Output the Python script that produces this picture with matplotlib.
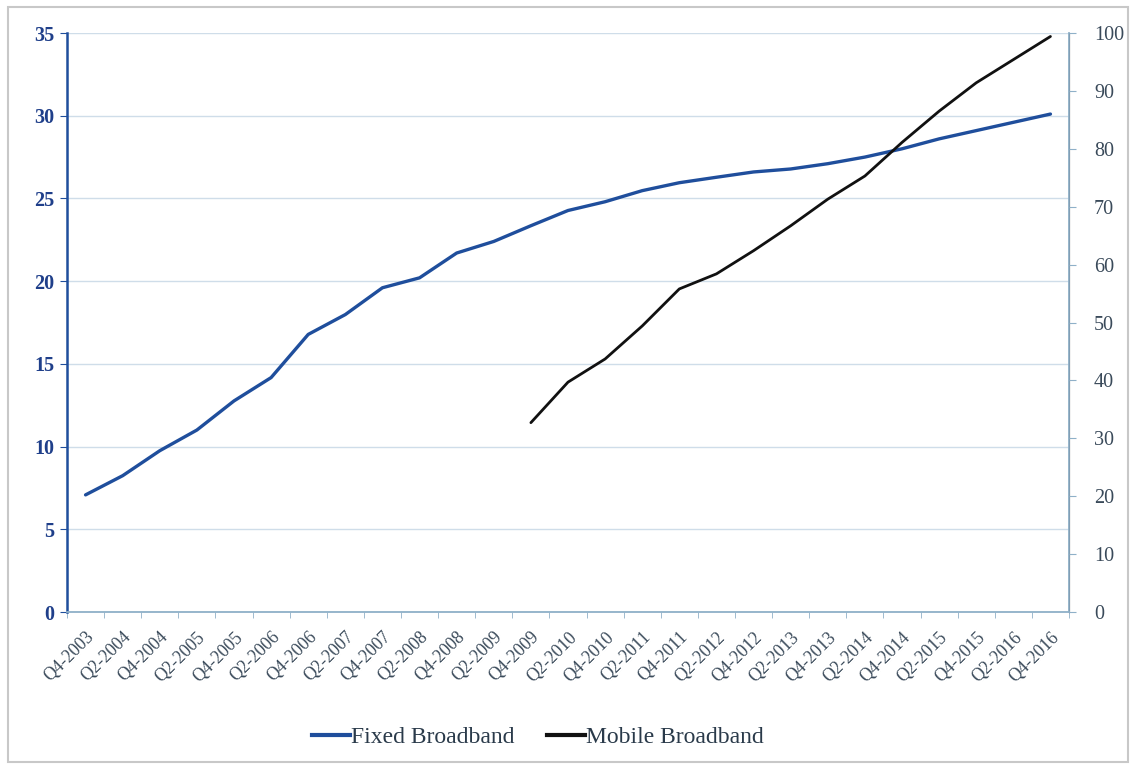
import matplotlib
matplotlib.use("Agg")
import matplotlib.pyplot as plt
import numpy as np
from matplotlib.patches import Rectangle
from matplotlib.lines import Line2D

categories = ["Q4-2003", "Q2-2004", "Q4-2004", "Q2-2005", "Q4-2005", "Q2-2006",
              "Q4-2006", "Q2-2007", "Q4-2007", "Q2-2008", "Q4-2008", "Q2-2009",
              "Q4-2009", "Q2-2010", "Q4-2010", "Q2-2011", "Q4-2011", "Q2-2012",
              "Q4-2012", "Q2-2013", "Q4-2013", "Q2-2014", "Q4-2014", "Q2-2015",
              "Q4-2015", "Q2-2016", "Q4-2016"]
fixed_broadband = [7.08, 8.24, 9.75, 11.0, 12.76, 14.17, 16.78, 17.98, 19.6, 20.2,
                   21.7, 22.4, 23.35, 24.27, 24.8, 25.47, 25.95, 26.28, 26.6, 26.78,
                   27.1, 27.5, 28.0, 28.6, 29.1, 29.6, 30.1]
mobile_broadband = [None] * 12 + [32.7, 39.7, 43.7, 49.4, 55.8, 58.4, 62.4, 66.7,
                                  71.3, 75.3, 81.1, 86.5, 91.4, 95.4, 99.4]
left_ticks = [0, 5, 10, 15, 20, 25, 30, 35]
right_ticks = [0, 10, 20, 30, 40, 50, 60, 70, 80, 90, 100]

plt.rcParams['font.family'] = ['Liberation Serif', 'DejaVu Serif']

fig = plt.figure(figsize=(11.33, 7.67), dpi=100)
fig.patches.append(Rectangle((8 / 1133, 1 - 762 / 767), 1120 / 1133, 755 / 767,
                             transform=fig.transFigure, fill=False,
                             edgecolor='#c8c8c8', linewidth=1.5))
ax = fig.add_axes([67 / 1133, 1 - 612 / 767, (1069 - 67) / 1133, (612 - 33) / 767])
ax2 = ax.twinx()

x = np.arange(len(categories))
mob = np.array([np.nan if v is None else v for v in mobile_broadband], dtype=float)

blue = '#1f4e9c'
ax.plot(x, fixed_broadband, color=blue, lw=2.4, solid_joinstyle='round',
        solid_capstyle='round', zorder=3)
ax2.plot(x, mob, color='#111111', lw=2.0, solid_joinstyle='round',
         solid_capstyle='round', zorder=3)

ax.set_xlim(-0.5, len(categories) - 0.5)
ax.set_ylim(0, 35)
ax2.set_ylim(0, 100)
ax.set_yticks(left_ticks)
ax2.set_yticks(right_ticks)

ax.grid(axis='y', color='#cfdde9', lw=1.0)
ax.set_axisbelow(True)

ax.set_xticks(x)
ax.set_xticklabels(categories, rotation=45, ha='right', rotation_mode='anchor',
                   fontsize=12.8, color='#3a4a5a')
ax.set_xticks(np.arange(-0.5, len(categories)), minor=True)
ax.tick_params(axis='x', which='major', length=0, pad=12)
ax.tick_params(axis='x', which='minor', length=4, color='#8fb0c8', direction='out')

ax.tick_params(axis='y', length=5, color=blue, direction='out', pad=4)
for lab in ax.get_yticklabels():
    lab.set_fontweight('bold')
    lab.set_color('#1f3f8a')
    lab.set_fontsize(14.5)
ax2.tick_params(axis='y', length=5, color='#8fb0c8', direction='out', pad=13)
for lab in ax2.get_yticklabels():
    lab.set_color('#3a4a5a')
    lab.set_fontsize(14.5)

for a in (ax, ax2):
    a.spines['top'].set_visible(False)
ax.spines['left'].set_color(blue)
ax.spines['left'].set_linewidth(1.8)
ax.spines['bottom'].set_color('#8fb0c8')
ax.spines['bottom'].set_linewidth(1.3)
ax2.spines['right'].set_color('#8fb0c8')
ax2.spines['right'].set_linewidth(1.3)
ax2.spines['left'].set_visible(False)
ax2.spines['bottom'].set_visible(False)

handles = [Line2D([], [], color=blue, lw=3.0), Line2D([], [], color='#111111', lw=3.0)]
fig.legend(handles=handles, labels=['Fixed Broadband', 'Mobile Broadband'],
           loc='center', bbox_to_anchor=(538 / 1133, 1 - 737 / 767),
           ncol=2, frameon=False, fontsize=17, handlelength=1.6, handletextpad=0.05,
           columnspacing=1.4, labelcolor='#2a3a4a')

fig.savefig('out.png', dpi=100)
